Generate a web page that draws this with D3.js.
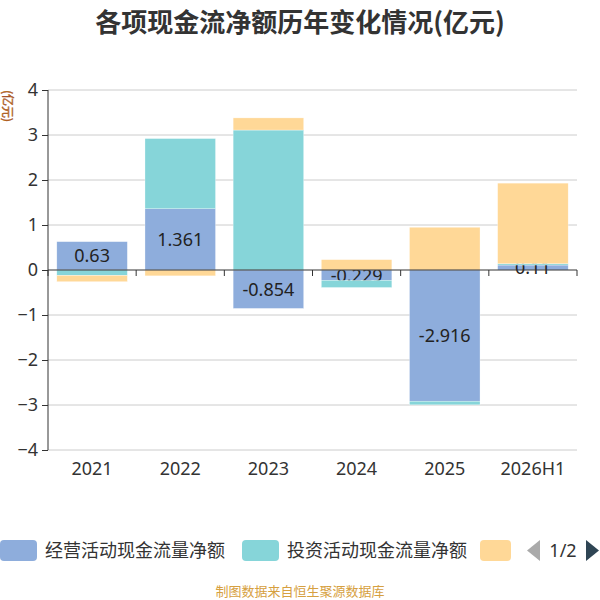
<!DOCTYPE html>
<html>
<head>
<meta charset="utf-8">
<script src="https://cdn.jsdelivr.net/npm/d3@7"></script>
<style>
body{margin:0;background:#fff;}
svg{display:block;font-family:"Noto Sans CJK SC","Noto Sans",sans-serif;}
</style>
</head>
<body>
<svg id="c" width="600" height="600"></svg>
<script>
const categories = ["2021","2022","2023","2024","2025","2026H1"];
const seriesNames = ["经营活动现金流量净额","投资活动现金流量净额","筹资活动现金流量净额"];
const operating = [0.63, 1.361, -0.854, -0.229, -2.916, 0.11];
const investing = [-0.12, 1.56, 3.11, -0.16, -0.08, 0.03];
const financing = [-0.14, -0.13, 0.27, 0.23, 0.95, 1.79];
const yTicks = [-4,-3,-2,-1,0,1,2,3,4];
const colors = ["#8eaddc","#86d5d9","#ffd897"];

const svg = d3.select("#c");
const x = d3.scaleBand().domain(categories).range([48, 577]).padding(0);
const y = d3.scaleLinear().domain([-4,4]).range([450, 90]);
const barW = x.bandwidth()*0.8;

// title
svg.append("text").attr("x",300).attr("y",32).attr("text-anchor","middle")
  .attr("font-size",26).attr("font-weight","bold").attr("fill","#333")
  .text("各项现金流净额历年变化情况(亿元)");

// unit
svg.append("text").attr("transform","translate(3,106) rotate(90)")
  .attr("text-anchor","middle").attr("font-size",12).attr("fill","#c8902e")
  .attr("stroke","#a0401e").attr("stroke-width",0.4).text("(亿元)");

// grid
svg.append("g").selectAll("line").data(yTicks.filter(d=>d!==0)).join("line")
  .attr("x1",48).attr("x2",577).attr("y1",d=>y(d)).attr("y2",d=>y(d))
  .attr("stroke","#ccc").attr("stroke-width",1);

// stacking
const data = [operating, investing, financing];
const pos = categories.map(()=>0), neg = categories.map(()=>0);
const rects = data.map(vals => vals.map((v,i)=>{
  let y0,y1;
  if(v>=0){y0=pos[i]; y1=pos[i]+v; pos[i]=y1;}
  else{y0=neg[i]; y1=neg[i]+v; neg[i]=y1;}
  return {cat:categories[i], v, y0, y1};
}));

const gBars = svg.append("g");
rects.forEach((rs,si)=>{
  gBars.append("g").selectAll("rect").data(rs).join("rect")
    .attr("x",d=>x(d.cat)+(x.bandwidth()-barW)/2)
    .attr("width",barW)
    .attr("y",d=>Math.min(y(d.y0),y(d.y1)))
    .attr("height",d=>Math.abs(y(d.y0)-y(d.y1)))
    .attr("fill",colors[si]).attr("stroke","#fff").attr("stroke-width",0.5).attr("stroke-opacity",0.6);
  if(si===0){
    gBars.append("g").selectAll("text").data(rs).join("text")
      .attr("x",d=>x(d.cat)+x.bandwidth()/2)
      .attr("y",d=>(y(d.y0)+y(d.y1))/2)
      .attr("dy","0.36em").attr("text-anchor","middle")
      .attr("font-size",18).attr("fill","#222")
      .attr("font-family","'Noto Sans','Noto Sans CJK SC',sans-serif")
      .text(d=>String(d.v));
  }
});

// y axis
const yAxis = d3.axisLeft(y).tickValues(yTicks).tickSize(6).tickPadding(4).tickFormat(d3.format("d"));
const gy = svg.append("g").attr("transform","translate(48,0)").call(yAxis);
gy.select(".domain").attr("stroke","#333").attr("d","M0,90V450");
gy.selectAll(".tick line").attr("stroke","#333");
gy.selectAll(".tick text").attr("font-size",18).attr("fill","#333")
  .attr("font-family","'Noto Sans','Noto Sans CJK SC',sans-serif");

// x axis at zero
const gx = svg.append("g").attr("transform",`translate(0,${y(0)})`);
gx.append("line").attr("x1",48).attr("x2",577).attr("stroke","#333");
const bounds = categories.map(c=>x(c)).concat([x(categories[categories.length-1])+x.bandwidth()]);
gx.selectAll("line.t").data(bounds).join("line").attr("class","t")
  .attr("x1",d=>d).attr("x2",d=>d).attr("y1",0).attr("y2",6).attr("stroke","#333");

// x labels at bottom
svg.append("g").selectAll("text").data(categories).join("text")
  .attr("x",d=>x(d)+x.bandwidth()/2).attr("y",475)
  .attr("text-anchor","middle").attr("font-size",18).attr("fill","#333")
  .attr("font-family","'Noto Sans','Noto Sans CJK SC',sans-serif")
  .text(d=>d);

// legend
const lg = svg.append("g");
const legendX = [0, 242, 480];
seriesNames.forEach((n,i)=>{
  lg.append("rect").attr("x",legendX[i]).attr("y",540).attr("width", i===2?31:37).attr("height",21)
    .attr("rx",4).attr("fill",colors[i]);
  if(i<2){
    lg.append("text").attr("x",legendX[i]+45).attr("y",551).attr("dy","0.36em")
      .attr("font-size",18).attr("fill","#333").text(n);
  }
});
lg.append("path").attr("d","M540,540L527,550.5L540,561Z").attr("fill","#aaa");
lg.append("text").attr("x",563).attr("y",551).attr("dy","0.36em").attr("text-anchor","middle")
  .attr("font-size",18).attr("fill","#333").attr("font-family","'Noto Sans',sans-serif").text("1/2");
lg.append("path").attr("d","M586,540L599,550.5L586,561Z").attr("fill","#2f4554");

// footer
svg.append("text").attr("x",300).attr("y",596).attr("text-anchor","middle")
  .attr("font-size",13).attr("fill","#d6a040").text("制图数据来自恒生聚源数据库");
</script>
</body>
</html>
